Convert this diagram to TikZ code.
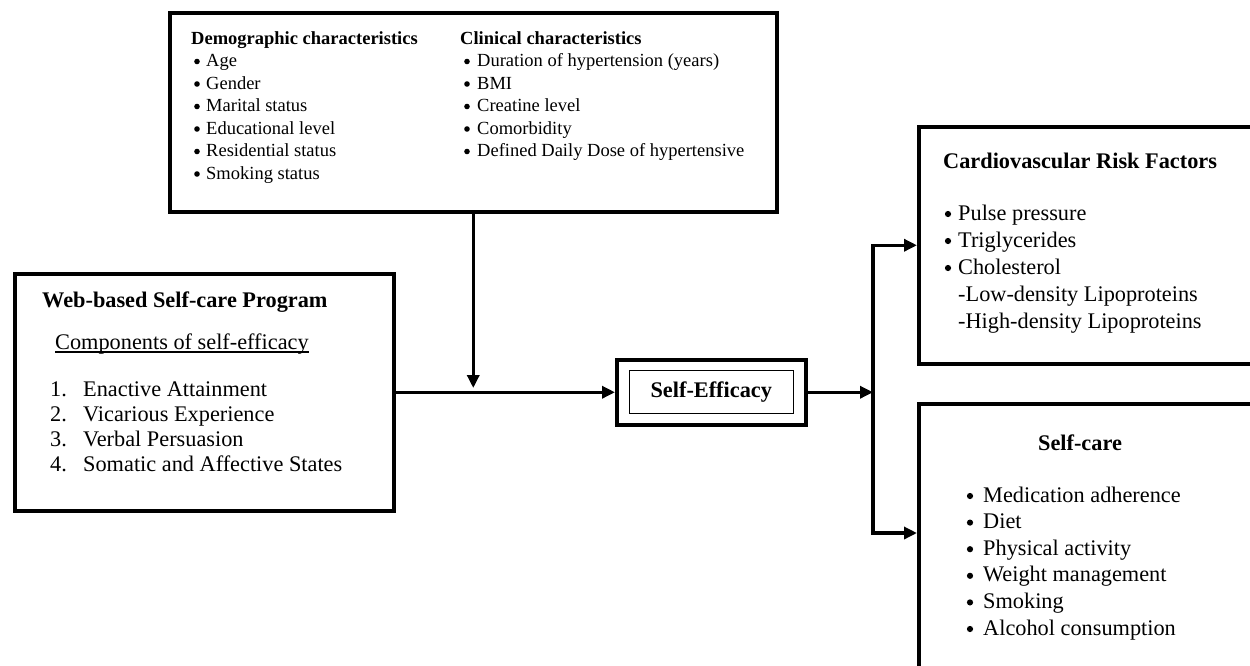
\documentclass[tikz,border=0pt]{standalone}
\usepackage{fontspec}
\setmainfont{Liberation Serif}
\usetikzlibrary{arrows.meta}
\begin{document}
\begin{tikzpicture}[x=1pt,y=-1pt,
  box/.style={draw, line width=3.5pt, inner sep=0pt, anchor=north west},
  conn/.style={line width=3.5pt},
  arr/.style={conn, -{Triangle[length=13pt,width=12pt]}},
  small/.style={font=\fontsize{18.5}{22}\selectfont, inner sep=0pt, anchor=base west},
  smallb/.style={font=\fontsize{18.5}{22}\selectfont\bfseries, inner sep=0pt, anchor=base west},
  big/.style={font=\fontsize{22.3}{26}\selectfont, inner sep=0pt, anchor=base west},
  bigb/.style={font=\fontsize{22.3}{26}\selectfont\bfseries, inner sep=0pt, anchor=base west},
]
\useasboundingbox (0,0) rectangle (1250,665);

% boxes
\node[box, minimum width=607pt, minimum height=199pt] (demo) at (168,11) {};
\node[box, minimum width=379pt, minimum height=237pt] (web) at (13,272) {};
\node[box, minimum width=189pt, minimum height=65pt] (se) at (615,358) {};
\node[draw, line width=1.3pt, minimum width=164pt, minimum height=43pt, inner sep=0pt,
      font=\fontsize{22.3}{26}\selectfont\bfseries] (sein) at (se.center) {Self-Efficacy};
\node[box, minimum width=345pt, minimum height=237pt] (cv) at (917,125) {};
\node[box, minimum width=345pt, minimum height=290pt] (sc) at (917,402) {};

% top box text
\node[smallb] (dtitle) at (191,44) {Demographic characteristics};
\node[smallb] (ctitle) at (460,44) {Clinical characteristics};
\foreach \t [count=\i] in {Age,Gender,Marital status,Educational level,Residential status,Smoking status}{
  \node[small] (dl\i) at (206,44+22.5*\i) {\t};
  \fill ([xshift=-9pt,yshift=5pt]dl\i.base west) circle (2.8pt);
}
\foreach \t [count=\i] in {Duration of hypertension (years),BMI,Creatine level,Comorbidity,Defined Daily Dose of hypertensive}{
  \node[small] (cl\i) at (477,44+22.5*\i) {\t};
  \fill ([xshift=-10pt,yshift=5pt]cl\i.base west) circle (2.8pt);
}

% left box text
\node[bigb] (wtitle) at (42,307) {Web-based Self-care Program};
\node[big] (comp) at (55,349) {Components of self-efficacy};
\draw[line width=1.2pt] ([yshift=-3pt]comp.base west) -- ([yshift=-3pt]comp.base east);
\foreach \t [count=\i] in {Enactive Attainment,Vicarious Experience,Verbal Persuasion,Somatic and Affective States}{
  \node[big] (wn\i) at (50,396+25.3*\i-25.3) {\i.};
  \node[big] (wi\i) at (83,396+25.3*\i-25.3) {\t};
}

% CVRF text
\node[bigb] (cvtitle) at (943,168) {Cardiovascular Risk Factors};
\foreach \t [count=\i] in {Pulse pressure,Triglycerides,Cholesterol}{
  \node[big] (cvi\i) at (958,220+27*\i-27) {\t};
  \fill ([xshift=-10pt,yshift=6pt]cvi\i.base west) circle (3.1pt);
}
\node[big] (cvl) at (958,301) {-Low-density Lipoproteins};
\node[big] (cvh) at (958,328) {-High-density Lipoproteins};

% self-care text
\node[bigb, anchor=base] (sctitle) at (1080,450) {Self-care};
\foreach \t [count=\i] in {Medication adherence,Diet,Physical activity,Weight management,Smoking,Alcohol consumption}{
  \node[big] (sci\i) at (983,502+26.6*\i-26.6) {\t};
  \fill ([xshift=-13pt,yshift=6pt]sci\i.base west) circle (3.1pt);
}

% connectors
\coordinate (m) at (demo.south |- 0,388);
\draw[arr] (web.east) -- (se.west);
\draw[arr] (demo.south) -- (m);
\coordinate (j) at (se.east -| 873,0);
\draw[arr] (se.east) -- (j);
\coordinate (jt) at (cv.west -| 873,0);
\coordinate (jb) at (873,533);
\draw[conn, {Triangle[length=13pt,width=12pt]}-{Triangle[length=13pt,width=12pt]}]
  (cv.west) -- (jt) -- (jb) -- (jb -| sc.west);
\end{tikzpicture}
\end{document}
